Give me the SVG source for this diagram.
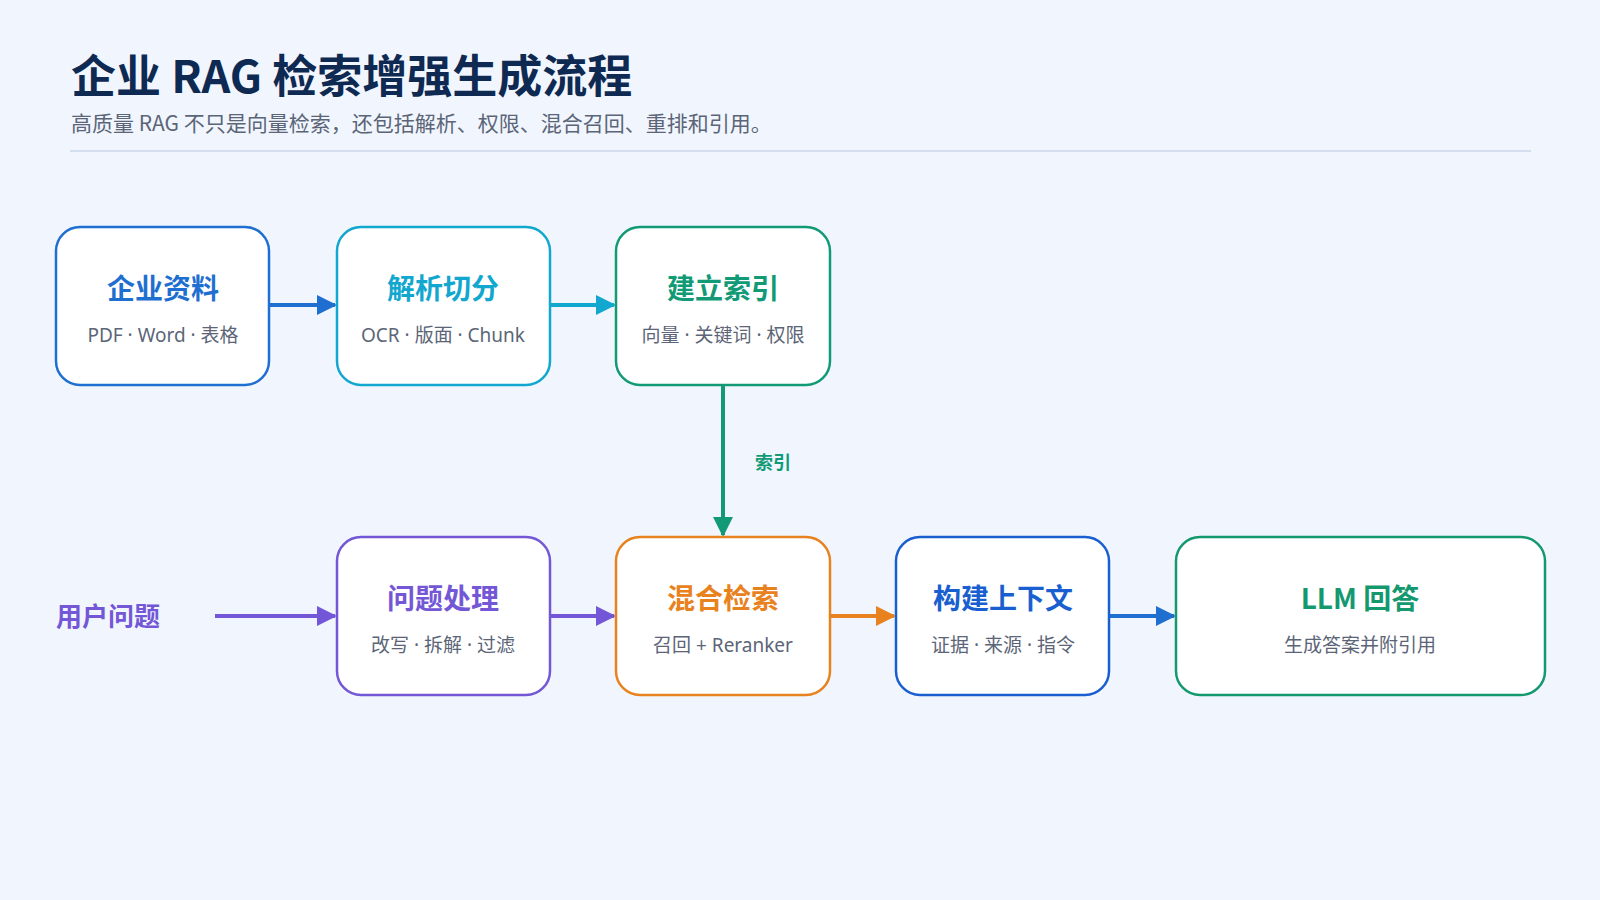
<svg xmlns="http://www.w3.org/2000/svg" width="1600" height="900" viewBox="0 0 1600 900">
<style>
text{font-family:"Noto Sans CJK SC","Noto Sans",sans-serif}
.box{fill:#fff;stroke-width:2.5}
.t{font-size:28px;font-weight:bold;text-anchor:middle}
.s{font-size:19px;fill:#5b6577;text-anchor:middle;font-family:"Noto Sans","Noto Sans CJK SC",sans-serif}
.ln{stroke-width:4;fill:none}
</style>
<defs>
<marker id="a1" viewBox="0 0 10 10" refX="9" refY="5" markerWidth="5" markerHeight="5" orient="auto"><path d="M0,0L10,5L0,10z" fill="#1f6fd1"/></marker>
<marker id="a2" viewBox="0 0 10 10" refX="9" refY="5" markerWidth="5" markerHeight="5" orient="auto"><path d="M0,0L10,5L0,10z" fill="#12a7cf"/></marker>
<marker id="a3" viewBox="0 0 10 10" refX="9" refY="5" markerWidth="5" markerHeight="5" orient="auto"><path d="M0,0L10,5L0,10z" fill="#129a76"/></marker>
<marker id="a4" viewBox="0 0 10 10" refX="9" refY="5" markerWidth="5" markerHeight="5" orient="auto"><path d="M0,0L10,5L0,10z" fill="#7357d6"/></marker>
<marker id="a5" viewBox="0 0 10 10" refX="9" refY="5" markerWidth="5" markerHeight="5" orient="auto"><path d="M0,0L10,5L0,10z" fill="#e8821e"/></marker>
</defs>
<rect width="1600" height="900" fill="#f1f6fe"/>
<text x="71" y="93" font-size="45" font-weight="bold" fill="#0f2a52">企业 RAG 检索增强生成流程</text>
<text x="71" y="131" font-size="21" fill="#5b6577" font-family="Noto Sans,Noto Sans CJK SC,sans-serif">高质量 RAG 不只是向量检索，还包括解析、权限、混合召回、重排和引用。</text>
<line x1="70" y1="151" x2="1531" y2="151" stroke="#d3dfee" stroke-width="2"/>
<g id="connectors">
<line class="ln" x1="269" y1="305" x2="335" y2="305" stroke="#1f6fd1" marker-end="url(#a1)"/>
<line class="ln" x1="550" y1="305" x2="614" y2="305" stroke="#12a7cf" marker-end="url(#a2)"/>
<line class="ln" x1="723" y1="385" x2="723" y2="535" stroke="#129a76" marker-end="url(#a3)"/>
<text x="755" y="469" font-size="18" font-weight="bold" fill="#129a76">索引</text>
<line class="ln" x1="215" y1="616" x2="335" y2="616" stroke="#7357d6" marker-end="url(#a4)"/>
<line class="ln" x1="550" y1="616" x2="614" y2="616" stroke="#7357d6" marker-end="url(#a4)"/>
<line class="ln" x1="830" y1="616" x2="894" y2="616" stroke="#e8821e" marker-end="url(#a5)"/>
<line class="ln" x1="1109" y1="616" x2="1174" y2="616" stroke="#1f6fd1" marker-end="url(#a1)"/>
</g>
<g id="n1"><rect class="box" x="56" y="227" width="213" height="158" rx="24" stroke="#1f6fd1"/><text class="t" x="163" y="299" fill="#1f6fd1">企业资料</text><text class="s" x="163" y="342">PDF · Word · 表格</text></g>
<g id="n2"><rect class="box" x="337" y="227" width="213" height="158" rx="24" stroke="#12a7cf"/><text class="t" x="443" y="299" fill="#12a7cf">解析切分</text><text class="s" x="443" y="342">OCR · 版面 · Chunk</text></g>
<g id="n3"><rect class="box" x="616" y="227" width="214" height="158" rx="24" stroke="#129a76"/><text class="t" x="723" y="299" fill="#129a76">建立索引</text><text class="s" x="723" y="342">向量 · 关键词 · 权限</text></g>
<g id="user"><text x="56" y="626" font-size="26" font-weight="bold" fill="#7357d6">用户问题</text></g>
<g id="n4"><rect class="box" x="337" y="537" width="213" height="158" rx="24" stroke="#7357d6"/><text class="t" x="443" y="609" fill="#7357d6">问题处理</text><text class="s" x="443" y="652">改写 · 拆解 · 过滤</text></g>
<g id="n5"><rect class="box" x="616" y="537" width="214" height="158" rx="24" stroke="#e8821e"/><text class="t" x="723" y="609" fill="#e8821e">混合检索</text><text class="s" x="723" y="652">召回 + Reranker</text></g>
<g id="n6"><rect class="box" x="896" y="537" width="213" height="158" rx="24" stroke="#1a5fd0"/><text class="t" x="1003" y="609" fill="#1a5fd0">构建上下文</text><text class="s" x="1003" y="652">证据 · 来源 · 指令</text></g>
<g id="n7"><rect class="box" x="1176" y="537" width="369" height="158" rx="24" stroke="#14996f"/><text class="t" x="1360" y="609" fill="#14996f">LLM 回答</text><text class="s" x="1360" y="652">生成答案并附引用</text></g>
</svg>
